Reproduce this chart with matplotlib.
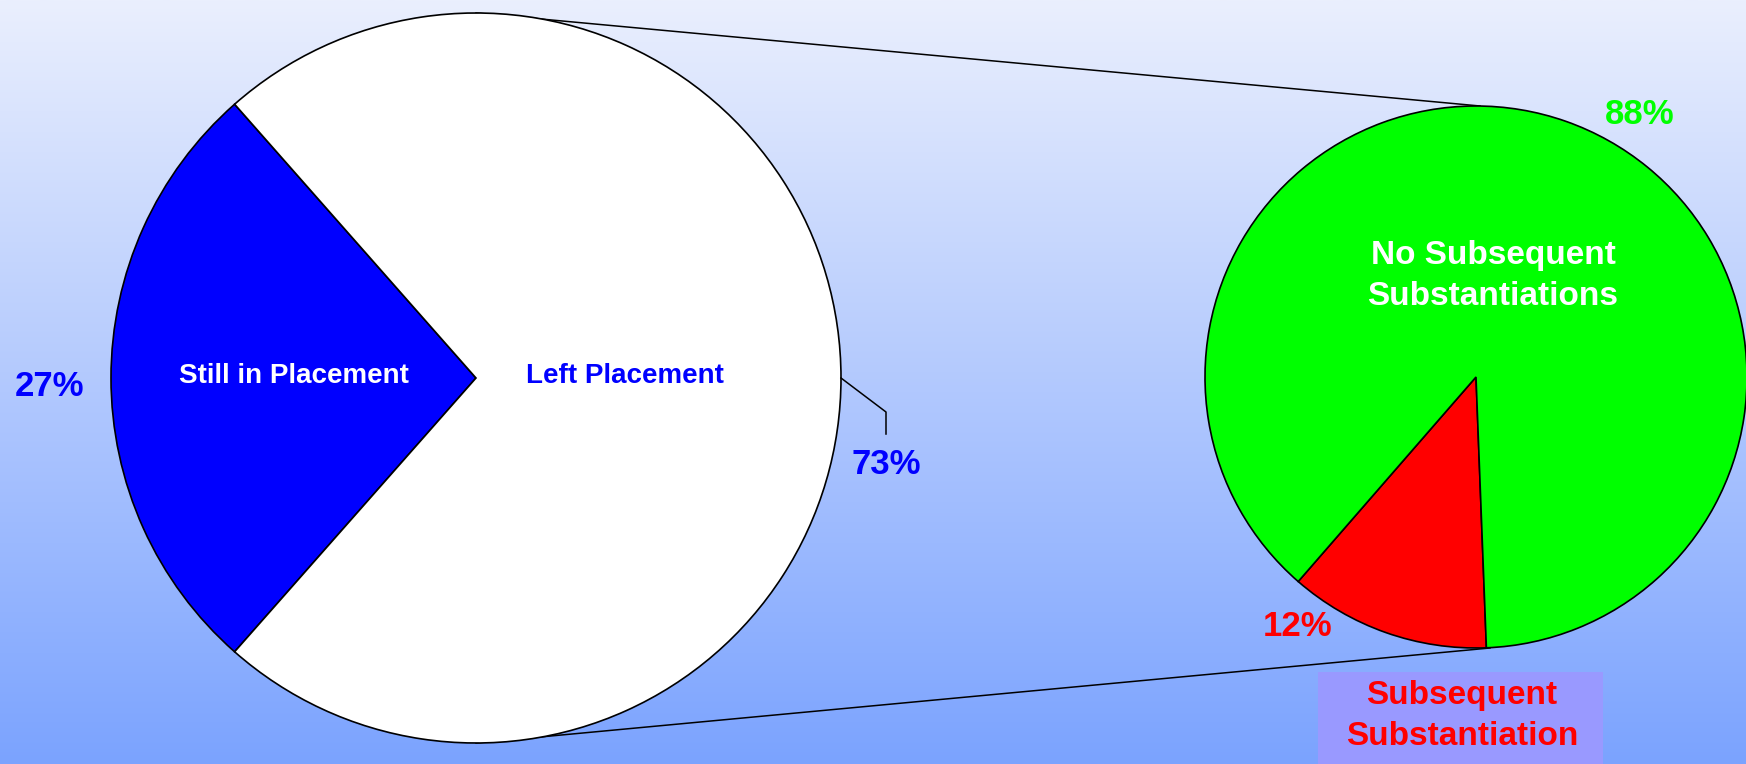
import numpy as np
import matplotlib
matplotlib.use('Agg')
import matplotlib.pyplot as plt
from matplotlib.colors import LinearSegmentedColormap
from matplotlib.patches import Rectangle

# ===================== DATA =====================
main_labels = ['Still in Placement', 'Left Placement']
main_values = [27, 73]
main_colors = ['#0000FF', '#FFFFFF']

sub_labels = ['Subsequent\nSubstantiation', 'No Subsequent\nSubstantiations']
sub_values = [12, 88]
sub_colors = ['#FF0000', '#00FF00']

# ===================== LAYOUT (pixels, y measured from top) =====================
W, H = 1746, 764
big_center = (476, 378)
big_radius = 365
small_center = (1476, 377)
small_radius = 271


def fy(y):
    return H - y


plt.rcParams['font.family'] = ['Liberation Sans', 'DejaVu Sans']
fig = plt.figure(figsize=(W / 100, H / 100), dpi=100)
ax = fig.add_axes([0, 0, 1, 1])

# ---------- background gradient ----------
bg = LinearSegmentedColormap.from_list('bg', ['#7BA3FF', '#EAEFFD'])
grad = np.linspace(0, 1, 256).reshape(-1, 1)
ax.imshow(grad, cmap=bg, origin='lower', extent=[0, W, 0, H], aspect='auto', zorder=0)

# ---------- main pie ----------
bc = (big_center[0], fy(big_center[1]))
ax.pie(main_values, colors=main_colors, startangle=180 - main_values[0] * 1.8,
       center=bc, radius=big_radius, counterclock=True,
       wedgeprops=dict(edgecolor='black', linewidth=1.2, zorder=2))

# ---------- sub pie ----------
sc = (small_center[0], fy(small_center[1]))
ax.pie(sub_values, colors=sub_colors, startangle=229,
       center=sc, radius=small_radius, counterclock=True,
       wedgeprops=dict(edgecolor='black', linewidth=1.2, zorder=2))

# ---------- connecting lines (behind the pies) ----------
ax.plot([bc[0], sc[0] + 4], [bc[1] + big_radius, sc[1] + small_radius],
        color='black', lw=1.1, zorder=1)
ax.plot([bc[0], sc[0] + 14], [bc[1] - big_radius, sc[1] - small_radius],
        color='black', lw=1.1, zorder=1)

# ---------- 73% leader ----------
ex = bc[0] + big_radius
ax.plot([ex, ex + 45, ex + 45], [bc[1], bc[1] - 34, bc[1] - 56],
        color='black', lw=1.1, zorder=3)

# ---------- labels ----------
kw = dict(ha='center', va='center', fontweight='bold', zorder=5)
ax.text(294, fy(376), main_labels[0], color='white', fontsize=20, **kw)
ax.text(625, fy(376), main_labels[1], color='#0000FF', fontsize=20, **kw)
ax.text(50, fy(386), f'{main_values[0]}%', color='#0000FF', fontsize=25, **kw)
ax.text(886, fy(465), f'{main_values[1]}%', color='#0000FF', fontsize=25, **kw)

ax.text(1493, fy(276), sub_labels[1], color='white', fontsize=24,
        linespacing=1.42, **kw)
ax.text(1640, fy(115), f'{sub_values[1]}%', color='#00FF00', fontsize=25, **kw)
ax.text(1298, fy(627), f'{sub_values[0]}%', color='#FF0000', fontsize=25, **kw)

ax.add_patch(Rectangle((1318, 0), 285, fy(672), facecolor='#9999FF',
                       edgecolor='none', zorder=4))
ax.text(1462, fy(716), sub_labels[0], color='#FF0000', fontsize=24,
        linespacing=1.42, **kw)

ax.set_xlim(0, W)
ax.set_ylim(0, H)
ax.set_aspect('auto')
ax.axis('off')

fig.savefig('out.png', dpi=100)
